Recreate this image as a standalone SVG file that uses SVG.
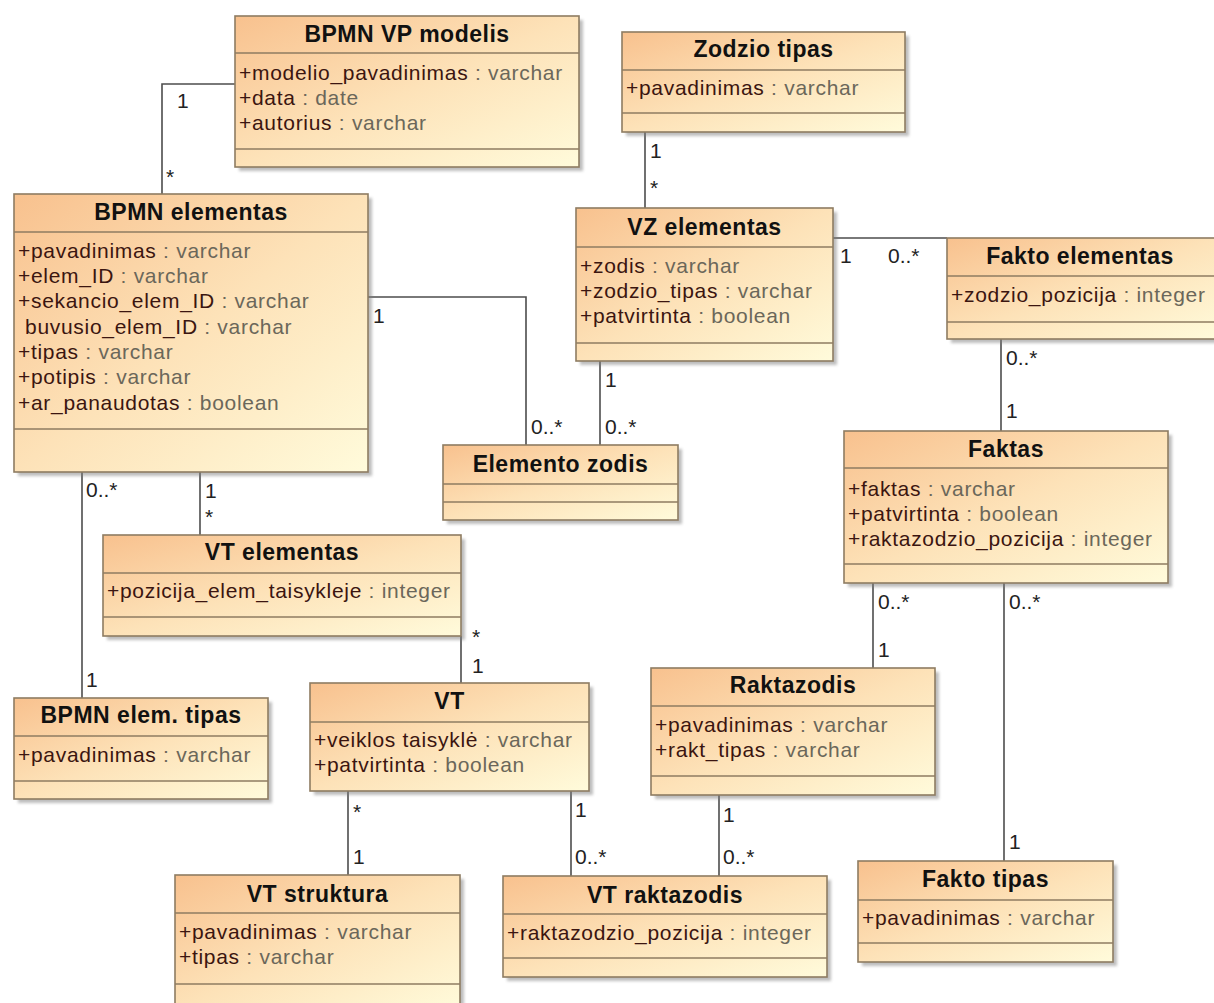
<svg xmlns="http://www.w3.org/2000/svg" width="1214" height="1003" viewBox="0 0 1214 1003">
  <defs>
    <linearGradient id="fill" x1="0" y1="0" x2="1" y2="1">
      <stop offset="0" stop-color="#f8c18e"/>
      <stop offset="0.5" stop-color="#fde2b8"/>
      <stop offset="1" stop-color="#fffbdb"/>
    </linearGradient>
    <filter id="soft" x="-5%" y="-5%" width="110%" height="110%">
      <feGaussianBlur stdDeviation="1.5"/>
    </filter>
  </defs>
  <style>
    .sh { fill: #7d7d7d; opacity: .5; filter: url(#soft); }
    .box { fill: url(#fill); stroke: #8e7c62; stroke-width: 1.6; }
    .sep { fill: none; stroke: #8e7c62; stroke-width: 1.4; }
    .title { font-family: "Liberation Sans", Arial, sans-serif; font-size: 23px; font-weight: bold; letter-spacing: .5px; text-anchor: middle; fill: #111; }
    .attr { font-family: "Liberation Sans", Arial, sans-serif; font-size: 21px; letter-spacing: .7px; }
    .n { fill: #3b1510; }
    .t { fill: #6b675a; }
    .conn path { fill: none; stroke: #4d4d4d; stroke-width: 1.6; }
    .mult { font-family: "Liberation Sans", Arial, sans-serif; font-size: 21px; fill: #222; }
  </style>
  <rect width="1214" height="1003" fill="#ffffff"/>

  <!-- associations -->
  <g id="connectors" class="conn">
    <path d="M235 84H162V194"/>
    <path d="M645 132V208"/>
    <path d="M833 238H947"/>
    <path d="M368 297H526V445"/>
    <path d="M600 361V445"/>
    <path d="M1001 339V431"/>
    <path d="M82 472V698"/>
    <path d="M200 472V535"/>
    <path d="M461 636V683"/>
    <path d="M873 583V668"/>
    <path d="M1004 583V861"/>
    <path d="M348 791V875"/>
    <path d="M571 791V876"/>
    <path d="M719 795V876"/>
    <g class="mult">
      <text x="177" y="108">1</text><text x="166" y="184">*</text>
      <text x="650" y="158">1</text><text x="650" y="195">*</text>
      <text x="840" y="263">1</text><text x="888" y="263">0..*</text>
      <text x="373" y="323">1</text><text x="531" y="434">0..*</text>
      <text x="605" y="387">1</text><text x="605" y="434">0..*</text>
      <text x="1006" y="365">0..*</text><text x="1006" y="418">1</text>
      <text x="86" y="497">0..*</text><text x="86" y="687">1</text>
      <text x="205" y="498">1</text><text x="205" y="524">*</text>
      <text x="472" y="644">*</text><text x="472" y="673">1</text>
      <text x="878" y="609">0..*</text><text x="878" y="657">1</text>
      <text x="1009" y="609">0..*</text><text x="1009" y="849">1</text>
      <text x="353" y="819">*</text><text x="353" y="864">1</text>
      <text x="575" y="817">1</text><text x="575" y="864">0..*</text>
      <text x="723" y="822">1</text><text x="723" y="864">0..*</text>
    </g>
  </g>

  <g id="bpmn-vp-modelis">
    <rect class="sh" x="239" y="20" width="344" height="151"/>
    <rect class="box" x="235" y="16" width="344" height="151"/>
    <path class="sep" d="M235 53H579M235 149H579"/>
    <text class="title" x="407" y="42">BPMN VP modelis</text>
    <text class="attr" x="239" y="80"><tspan class="n">+modelio_pavadinimas</tspan><tspan class="t"> : varchar</tspan></text>
    <text class="attr" x="239" y="105"><tspan class="n">+data</tspan><tspan class="t"> : date</tspan></text>
    <text class="attr" x="239" y="130"><tspan class="n">+autorius</tspan><tspan class="t"> : varchar</tspan></text>
  </g>

  <g id="bpmn-elementas">
    <rect class="sh" x="18" y="198" width="354" height="278"/>
    <rect class="box" x="14" y="194" width="354" height="278"/>
    <path class="sep" d="M14 232H368M14 429H368"/>
    <text class="title" x="191" y="220">BPMN elementas</text>
    <text class="attr" x="18" y="258"><tspan class="n">+pavadinimas</tspan><tspan class="t"> : varchar</tspan></text>
    <text class="attr" x="18" y="283"><tspan class="n">+elem_ID</tspan><tspan class="t"> : varchar</tspan></text>
    <text class="attr" x="18" y="308"><tspan class="n">+sekancio_elem_ID</tspan><tspan class="t"> : varchar</tspan></text>
    <text class="attr" x="25" y="334"><tspan class="n">buvusio_elem_ID</tspan><tspan class="t"> : varchar</tspan></text>
    <text class="attr" x="18" y="359"><tspan class="n">+tipas</tspan><tspan class="t"> : varchar</tspan></text>
    <text class="attr" x="18" y="384"><tspan class="n">+potipis</tspan><tspan class="t"> : varchar</tspan></text>
    <text class="attr" x="18" y="410"><tspan class="n">+ar_panaudotas</tspan><tspan class="t"> : boolean</tspan></text>
  </g>

  <g id="zodzio-tipas">
    <rect class="sh" x="626" y="36" width="283" height="100"/>
    <rect class="box" x="622" y="32" width="283" height="100"/>
    <path class="sep" d="M622 70H905M622 113H905"/>
    <text class="title" x="763.5" y="57">Zodzio tipas</text>
    <text class="attr" x="626" y="95"><tspan class="n">+pavadinimas</tspan><tspan class="t"> : varchar</tspan></text>
  </g>

  <g id="vz-elementas">
    <rect class="sh" x="580" y="212" width="257" height="153"/>
    <rect class="box" x="576" y="208" width="257" height="153"/>
    <path class="sep" d="M576 247H833M576 343H833"/>
    <text class="title" x="704.5" y="235">VZ elementas</text>
    <text class="attr" x="580" y="273"><tspan class="n">+zodis</tspan><tspan class="t"> : varchar</tspan></text>
    <text class="attr" x="580" y="298"><tspan class="n">+zodzio_tipas</tspan><tspan class="t"> : varchar</tspan></text>
    <text class="attr" x="580" y="323"><tspan class="n">+patvirtinta</tspan><tspan class="t"> : boolean</tspan></text>
  </g>

  <!-- runs past the right edge of the canvas -->
  <g id="fakto-elementas">
    <rect class="sh" x="951" y="242" width="270" height="101"/>
    <rect class="box" x="947" y="238" width="270" height="101"/>
    <path class="sep" d="M947 276H1217M947 322H1217"/>
    <text class="title" x="1080" y="264">Fakto elementas</text>
    <text class="attr" x="951" y="302"><tspan class="n">+zodzio_pozicija</tspan><tspan class="t"> : integer</tspan></text>
  </g>

  <g id="elemento-zodis">
    <rect class="sh" x="447" y="449" width="235" height="75"/>
    <rect class="box" x="443" y="445" width="235" height="75"/>
    <path class="sep" d="M443 484H678M443 502H678"/>
    <text class="title" x="560.5" y="472">Elemento zodis</text>
  </g>

  <g id="faktas">
    <rect class="sh" x="848" y="435" width="324" height="152"/>
    <rect class="box" x="844" y="431" width="324" height="152"/>
    <path class="sep" d="M844 468H1168M844 564H1168"/>
    <text class="title" x="1006" y="457">Faktas</text>
    <text class="attr" x="848" y="496"><tspan class="n">+faktas</tspan><tspan class="t"> : varchar</tspan></text>
    <text class="attr" x="848" y="521"><tspan class="n">+patvirtinta</tspan><tspan class="t"> : boolean</tspan></text>
    <text class="attr" x="848" y="546"><tspan class="n">+raktazodzio_pozicija</tspan><tspan class="t"> : integer</tspan></text>
  </g>

  <g id="vt-elementas">
    <rect class="sh" x="107" y="539" width="358" height="101"/>
    <rect class="box" x="103" y="535" width="358" height="101"/>
    <path class="sep" d="M103 573H461M103 617H461"/>
    <text class="title" x="282" y="560">VT elementas</text>
    <text class="attr" x="107" y="598"><tspan class="n">+pozicija_elem_taisykleje</tspan><tspan class="t"> : integer</tspan></text>
  </g>

  <g id="bpmn-elem-tipas">
    <rect class="sh" x="18" y="702" width="254" height="101"/>
    <rect class="box" x="14" y="698" width="254" height="101"/>
    <path class="sep" d="M14 736H268M14 781H268"/>
    <text class="title" x="141" y="723">BPMN elem. tipas</text>
    <text class="attr" x="18" y="762"><tspan class="n">+pavadinimas</tspan><tspan class="t"> : varchar</tspan></text>
  </g>

  <g id="vt">
    <rect class="sh" x="314" y="687" width="279" height="108"/>
    <rect class="box" x="310" y="683" width="279" height="108"/>
    <path class="sep" d="M310 722H589"/>
    <text class="title" x="449.5" y="709">VT</text>
    <text class="attr" x="314" y="747"><tspan class="n">+veiklos taisyklė</tspan><tspan class="t"> : varchar</tspan></text>
    <text class="attr" x="314" y="772"><tspan class="n">+patvirtinta</tspan><tspan class="t"> : boolean</tspan></text>
  </g>

  <g id="vt-struktura">
    <rect class="sh" x="179" y="879" width="285" height="135"/>
    <rect class="box" x="175" y="875" width="285" height="135"/>
    <path class="sep" d="M175 913H460M175 984H460"/>
    <text class="title" x="317.5" y="902">VT struktura</text>
    <text class="attr" x="179" y="939"><tspan class="n">+pavadinimas</tspan><tspan class="t"> : varchar</tspan></text>
    <text class="attr" x="179" y="964"><tspan class="n">+tipas</tspan><tspan class="t"> : varchar</tspan></text>
  </g>

  <g id="vt-raktazodis">
    <rect class="sh" x="507" y="880" width="324" height="101"/>
    <rect class="box" x="503" y="876" width="324" height="101"/>
    <path class="sep" d="M503 914H827M503 958H827"/>
    <text class="title" x="665" y="903">VT raktazodis</text>
    <text class="attr" x="507" y="940"><tspan class="n">+raktazodzio_pozicija</tspan><tspan class="t"> : integer</tspan></text>
  </g>

  <g id="raktazodis">
    <rect class="sh" x="655" y="672" width="284" height="127"/>
    <rect class="box" x="651" y="668" width="284" height="127"/>
    <path class="sep" d="M651 706H935M651 776H935"/>
    <text class="title" x="793" y="693">Raktazodis</text>
    <text class="attr" x="655" y="732"><tspan class="n">+pavadinimas</tspan><tspan class="t"> : varchar</tspan></text>
    <text class="attr" x="655" y="757"><tspan class="n">+rakt_tipas</tspan><tspan class="t"> : varchar</tspan></text>
  </g>

  <g id="fakto-tipas">
    <rect class="sh" x="862" y="865" width="255" height="101"/>
    <rect class="box" x="858" y="861" width="255" height="101"/>
    <path class="sep" d="M858 900H1113M858 943H1113"/>
    <text class="title" x="985.5" y="887">Fakto tipas</text>
    <text class="attr" x="862" y="925"><tspan class="n">+pavadinimas</tspan><tspan class="t"> : varchar</tspan></text>
  </g>
</svg>
